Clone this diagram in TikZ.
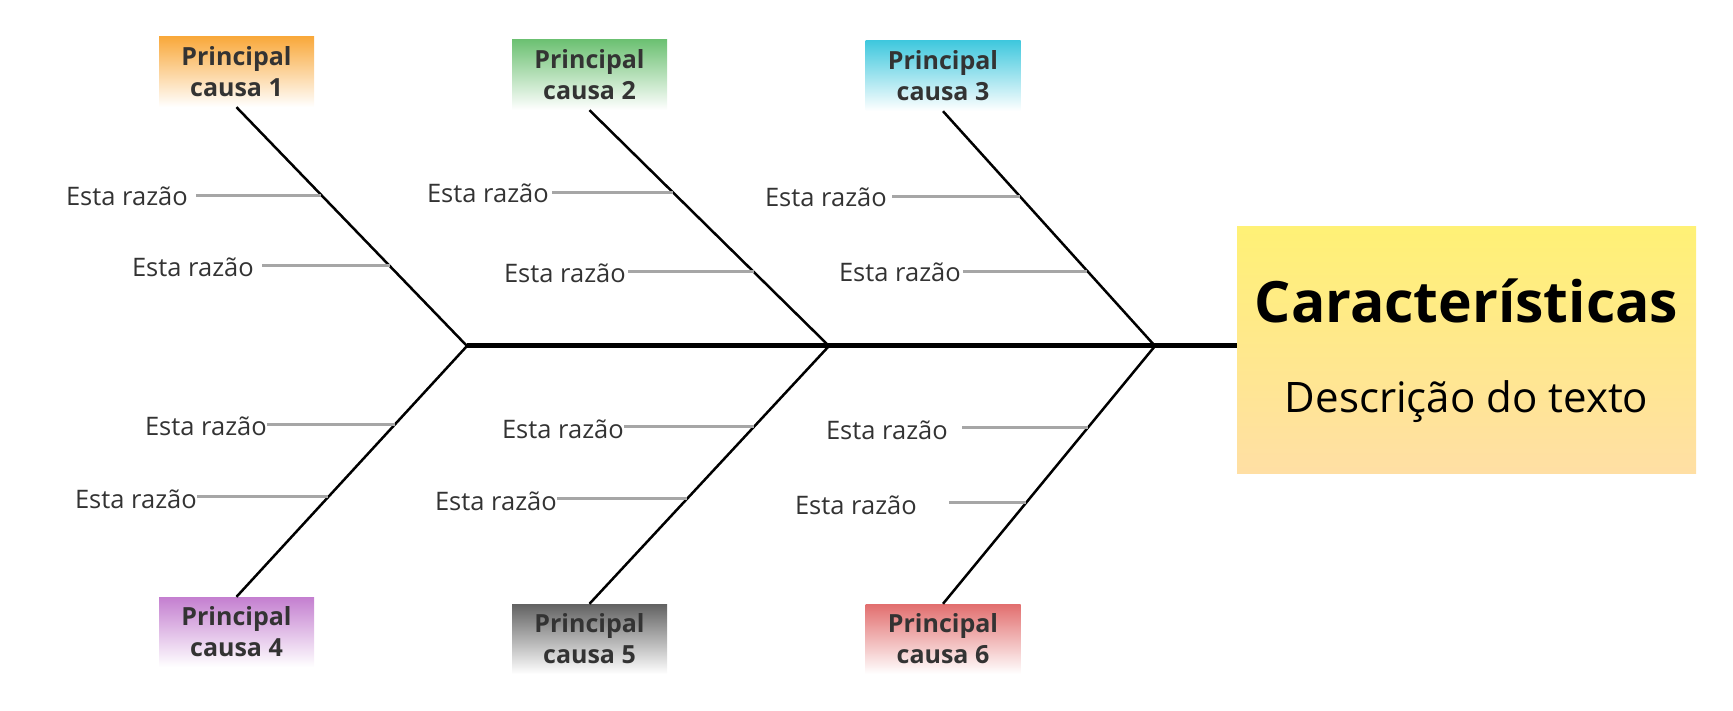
\documentclass[tikz,border=0pt]{standalone}
\usepackage{fontspec}
\setmainfont{Open Sans}
\usetikzlibrary{calc}
\definecolor{corange}{HTML}{F9A93C}
\definecolor{cgreen}{HTML}{6DC173}
\definecolor{ccyan}{HTML}{40C8DE}
\definecolor{cpurple}{HTML}{C47FD0}
\definecolor{cgray}{HTML}{626262}
\definecolor{cred}{HTML}{E26E6E}
\definecolor{myellow}{HTML}{FFF176}
\definecolor{mpeach}{HTML}{FFDFA4}
\definecolor{txtgray}{HTML}{333333}
\definecolor{subgray}{HTML}{A6A6A6}
\tikzset{
  causebox/.style={draw=none, minimum width=155pt, minimum height=70pt, inner sep=0pt,
    align=center, text=txtgray, bottom color=white,
    font=\bfseries\fontsize{25}{31}\selectfont},
  mainbox/.style={draw=none, minimum width=459pt, minimum height=246pt, inner sep=0pt,
    top color=myellow, bottom color=mpeach},
  reason/.style={inner sep=0pt, anchor=base east, text=txtgray, font=\fontsize{25.5}{30}\selectfont},
  spine/.style={line width=5pt, black},
  bone/.style={line width=2.5pt, black},
  subbone/.style={line width=3pt, subgray},
}
\begin{document}
\begin{tikzpicture}[x=1pt,y=-1pt]
\useasboundingbox (0,0) rectangle (1733,711);
% main box
\node[mainbox] (main) at (1466.5,350) {};
\node[anchor=base, inner sep=0pt, font=\bfseries\fontsize{57}{64}\selectfont] (title) at (1466.5,323) {Características};
\node[anchor=base, inner sep=0pt, font=\fontsize{42}{48}\selectfont] (desc) at (1466.5,412) {Descrição do texto};
% cause boxes
\node[causebox, top color=corange] (p1) at (236.5,72) {Principal\\causa 1};
\node[causebox, top color=cgreen] (p2) at (589.5,75) {Principal\\causa 2};
\node[causebox, top color=ccyan] (p3) at (943,76) {Principal\\causa 3};
\node[causebox, top color=cpurple] (p4) at (236.5,632) {Principal\\causa 4};
\node[causebox, top color=cgray] (p5) at (589.5,639) {Principal\\causa 5};
\node[causebox, top color=cred] (p6) at (943,639) {Principal\\causa 6};
% junctions
\coordinate (j1) at (467,346);
\coordinate (j2) at (829,346);
\coordinate (j3) at (1155,346);
% spine and bones
\draw[spine] (j1) -- (j1 -| main.west);
\draw[bone] (p1.south) -- (j1) -- (p4.north);
\draw[bone] (p2.south) -- (j2) -- (p5.north);
\draw[bone] (p3.south) -- (j3) -- (p6.north);
% points on bones
\coordinate (s1a) at ($(p1.south)!0.368!(j1)$);
\coordinate (s1b) at ($(p1.south)!0.665!(j1)$);
\coordinate (s2a) at ($(p2.south)!0.347!(j2)$);
\coordinate (s2b) at ($(p2.south)!0.686!(j2)$);
\coordinate (s3a) at ($(p3.south)!0.362!(j3)$);
\coordinate (s3b) at ($(p3.south)!0.681!(j3)$);
\coordinate (s4a) at ($(j1)!0.311!(p4.north)$);
\coordinate (s4b) at ($(j1)!0.602!(p4.north)$);
\coordinate (s5a) at ($(j2)!0.314!(p5.north)$);
\coordinate (s5b) at ($(j2)!0.593!(p5.north)$);
\coordinate (s6a) at ($(j3)!0.318!(p6.north)$);
\coordinate (s6b) at ($(j3)!0.609!(p6.north)$);
% reason texts
\node[reason] (r1a) at (188,206) {Esta razão};
\node[reason] (r1b) at (254,277) {Esta razão};
\node[reason] (r2a) at (549,203) {Esta razão};
\node[reason] (r2b) at (626,283) {Esta razão};
\node[reason] (r3a) at (887,207) {Esta razão};
\node[reason] (r3b) at (961,282) {Esta razão};
\node[reason] (r4a) at (267,435) {Esta razão};
\node[reason] (r4b) at (197,508) {Esta razão};
\node[reason] (r5a) at (624,438) {Esta razão};
\node[reason] (r5b) at (557,510) {Esta razão};
\node[reason] (r6a) at (948,439) {Esta razão};
\node[reason] (r6b) at (917,514) {Esta razão};
% sub-bones
\draw[subbone] ([xshift=8pt]r1a.east |- s1a) -- (s1a);
\draw[subbone] ([xshift=8pt]r1b.east |- s1b) -- (s1b);
\draw[subbone] ([xshift=3pt]r2a.east |- s2a) -- (s2a);
\draw[subbone] ([xshift=2pt]r2b.east |- s2b) -- (s2b);
\draw[subbone] ([xshift=5pt]r3a.east |- s3a) -- (s3a);
\draw[subbone] ([xshift=2pt]r3b.east |- s3b) -- (s3b);
\draw[subbone] (r4a.east |- s4a) -- (s4a);
\draw[subbone] (r4b.east |- s4b) -- (s4b);
\draw[subbone] (r5a.east |- s5a) -- (s5a);
\draw[subbone] (r5b.east |- s5b) -- (s5b);
\draw[subbone] ([xshift=14pt]r6a.east |- s6a) -- (s6a);
\draw[subbone] ([xshift=32pt]r6b.east |- s6b) -- (s6b);
\end{tikzpicture}
\end{document}
